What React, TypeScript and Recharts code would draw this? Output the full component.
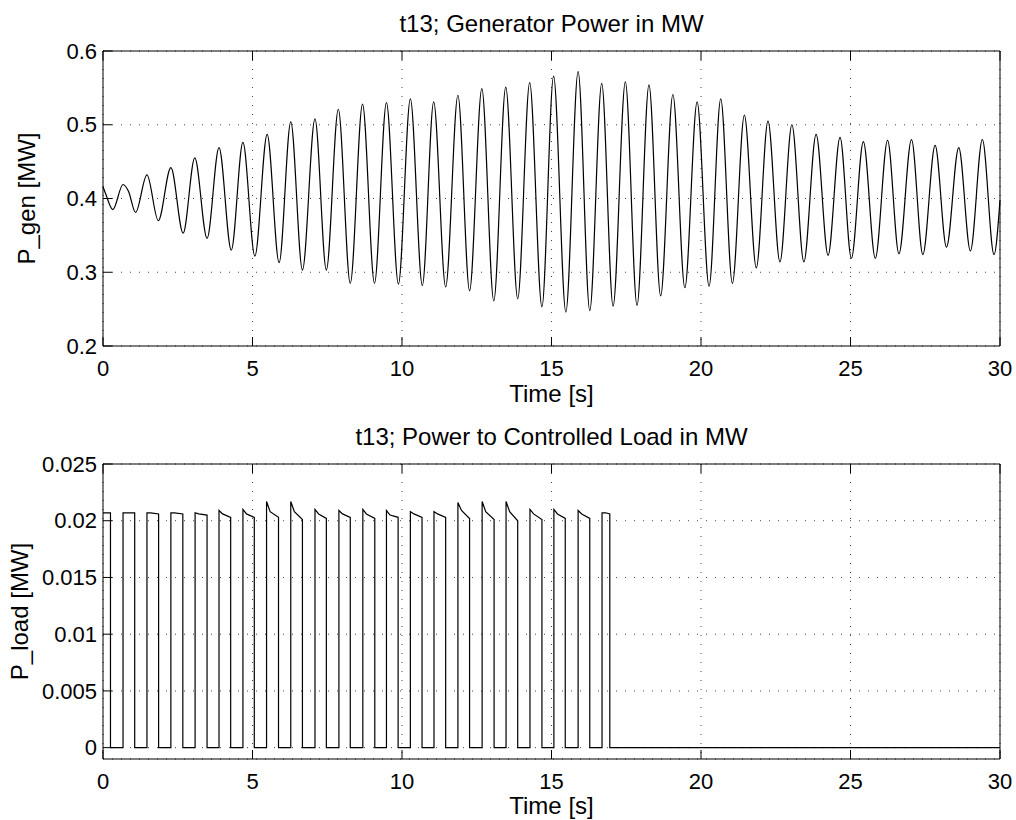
import React from 'react';
import { LineChart, Line, XAxis, YAxis, CartesianGrid } from 'recharts';

const FONT = '"Liberation Sans", Arial, Helvetica, sans-serif';

const timeTicks = [0, 5, 10, 15, 20, 25, 30];
const genTicks = [0.2, 0.3, 0.4, 0.5, 0.6];
const loadTicks = [0, 0.005, 0.01, 0.015, 0.02, 0.025];

// generator power: extrema (s, MW)
const genTime = [
  0, 0.1, 0.33, 0.67, 0.85, 1.09, 1.47, 1.85, 2.27, 2.68, 3.07, 3.48, 3.88, 4.29, 4.68,
  5.08, 5.49, 5.89, 6.28, 6.67, 7.09, 7.47, 7.87, 8.27, 8.68, 9.08, 9.48, 9.88,
  10.28, 10.68, 11.06, 11.46, 11.87, 12.26, 12.67, 13.07, 13.47, 13.87, 14.27, 14.68,
  15.07, 15.48, 15.89, 16.28, 16.68, 17.06, 17.47, 17.86, 18.26, 18.65, 19.06, 19.46, 19.87,
  20.27, 20.66, 21.05, 21.45, 21.85, 22.24, 22.64, 23.04, 23.44, 23.85, 24.25, 24.65,
  25.03, 25.43, 25.83, 26.24, 26.62, 27.04, 27.42, 27.83, 28.21, 28.62, 29.01, 29.41, 29.8, 30,
];
const genPower = [
  0.416, 0.405, 0.385, 0.419, 0.41, 0.381, 0.432, 0.37, 0.442, 0.353, 0.455, 0.346, 0.469, 0.33, 0.476,
  0.322, 0.487, 0.313, 0.504, 0.303, 0.508, 0.303, 0.521, 0.285, 0.528, 0.285, 0.53, 0.284,
  0.535, 0.282, 0.531, 0.28, 0.54, 0.275, 0.549, 0.261, 0.551, 0.264, 0.557, 0.253,
  0.566, 0.246, 0.572, 0.248, 0.556, 0.254, 0.558, 0.255, 0.554, 0.268, 0.541, 0.279, 0.531,
  0.281, 0.535, 0.285, 0.513, 0.306, 0.505, 0.314, 0.5, 0.314, 0.487, 0.323, 0.483,
  0.319, 0.477, 0.319, 0.479, 0.325, 0.48, 0.324, 0.472, 0.334, 0.469, 0.329, 0.48, 0.324, 0.398,
];

// controlled load pulses: switch-on / switch-off times and levels along each pulse
const loadRise = [0, 0.67, 1.47, 2.27, 3.08, 3.88, 4.68, 5.47, 6.28, 7.09, 7.89, 8.69, 9.48, 10.28, 11.07, 11.87, 12.68, 13.48, 14.28, 15.08, 15.89, 16.69];
const loadFall = [0.25, 1.06, 1.86, 2.67, 3.48, 4.27, 5.06, 5.87, 6.67, 7.47, 8.27, 9.09, 9.87, 10.67, 11.46, 12.26, 13.08, 13.87, 14.68, 15.46, 16.28, 16.95];
const loadStart = [0.0207, 0.0207, 0.0207, 0.0207, 0.0207, 0.0209, 0.021, 0.0217, 0.0217, 0.021, 0.0209, 0.021, 0.0209, 0.0208, 0.0208, 0.0216, 0.0217, 0.0217, 0.021, 0.021, 0.0209, 0.0207];
const loadKnee = [0.0207, 0.0207, 0.0207, 0.0207, 0.0206, 0.0206, 0.0206, 0.0208, 0.0208, 0.0206, 0.0206, 0.0206, 0.0205, 0.0206, 0.0206, 0.0209, 0.0208, 0.0208, 0.0206, 0.0206, 0.0206, 0.0207];
const loadEnd = [0.0207, 0.0207, 0.0206, 0.0206, 0.0205, 0.0203, 0.0203, 0.0203, 0.0201, 0.0202, 0.0203, 0.0202, 0.0203, 0.0203, 0.0203, 0.0202, 0.0201, 0.02, 0.0201, 0.0202, 0.0202, 0.0206];
const kneeDelay = 0.12;

const genData = genTime.map((t, i) => ({ t, p: genPower[i] }));

const loadData: { t: number; p: number }[] = [];
loadRise.forEach((r, i) => {
  if (r > 0) loadData.push({ t: r, p: 0 });
  loadData.push({ t: r, p: loadStart[i] });
  loadData.push({ t: r + kneeDelay, p: loadKnee[i] });
  loadData.push({ t: loadFall[i], p: loadEnd[i] });
  loadData.push({ t: loadFall[i], p: 0 });
});
loadData.push({ t: 30, p: 0 });

const TICK = 9;

const BottomTick = (props: any) => {
  const { x, y, payload } = props;
  return (
    <g>
      <line x1={x} x2={x} y1={y} y2={y - TICK} stroke="#000" />
      <text x={x} y={y + 30} textAnchor="middle" fontSize={22} fontFamily={FONT} fill="#000">
        {String(payload.value)}
      </text>
    </g>
  );
};

const TopTick = (props: any) => {
  const { x, y } = props;
  return <line x1={x} x2={x} y1={y} y2={y + TICK} stroke="#000" />;
};

const LeftTick = (props: any) => {
  const { x, y, payload } = props;
  return (
    <g>
      <line x1={x} x2={x + TICK} y1={y} y2={y} stroke="#000" />
      <text x={x - 6} y={y} dy="0.35em" textAnchor="end" fontSize={22} fontFamily={FONT} fill="#000">
        {String(payload.value)}
      </text>
    </g>
  );
};

const RightTick = (props: any) => {
  const { x, y } = props;
  return <line x1={x} x2={x - TICK} y1={y} y2={y} stroke="#000" />;
};

function Panel({ data, domain, ticks, top, curve }: any) {
  return (
    <div style={{ position: 'absolute', left: 0, top: top.offset }}>
      <LineChart width={1016} height={410} data={data} margin={{ top: top.margin, right: 0, bottom: 0, left: 0 }}>
        <CartesianGrid stroke="#444" strokeDasharray="1 8" />
        <XAxis
          dataKey="t"
          type="number"
          domain={[0, 30]}
          ticks={timeTicks}
          interval={0}
          height={top.xh}
          tickSize={0}
          tickMargin={0}
          tickLine={false}
          axisLine={{ stroke: '#000' }}
          tick={<BottomTick />}
        />
        <XAxis
          xAxisId="top"
          orientation="top"
          dataKey="t"
          type="number"
          domain={[0, 30]}
          ticks={timeTicks}
          interval={0}
          height={1}
          tickSize={0}
          tickMargin={0}
          tickLine={false}
          axisLine={{ stroke: '#000' }}
          tick={<TopTick />}
        />
        <YAxis
          type="number"
          domain={domain}
          ticks={ticks}
          interval={0}
          width={103}
          tickSize={0}
          tickMargin={0}
          tickLine={false}
          axisLine={{ stroke: '#000' }}
          tick={<LeftTick />}
        />
        <YAxis
          yAxisId="right"
          orientation="right"
          type="number"
          domain={domain}
          ticks={ticks}
          interval={0}
          width={16}
          tickSize={0}
          tickMargin={0}
          tickLine={false}
          axisLine={{ stroke: '#000' }}
          tick={<RightTick />}
        />
        <Line
          dataKey="p"
          type={curve}
          stroke="#000"
          strokeWidth={1.2}
          dot={false}
          isAnimationActive={false}
        />
      </LineChart>
    </div>
  );
}

export default function App() {
  const txt = { fontFamily: FONT, fontSize: 24, fill: '#000' } as any;
  return (
    <div style={{ position: 'absolute', left: 0, top: 0, width: 1016, height: 820, background: '#fff' }}>
      <Panel data={genData} domain={[0.2, 0.6]} ticks={genTicks} curve="monotone" top={{ offset: 0, margin: 50, xh: 64 }} />
      <Panel data={loadData} domain={[-0.001, 0.025]} ticks={loadTicks} curve="linear" top={{ offset: 410, margin: 53, xh: 61 }} />
      <svg width={1016} height={820} style={{ position: 'absolute', left: 0, top: 0, pointerEvents: 'none' }}>
        <text x={551.5} y={31.5} textAnchor="middle" {...txt}>t13; Generator Power in MW</text>
        <text x={551.5} y={402} textAnchor="middle" {...txt}>Time [s]</text>
        <text transform="translate(35,198.5) rotate(-90)" textAnchor="middle" {...txt}>P_gen [MW]</text>
        <text x={551.5} y={445} textAnchor="middle" {...txt}>t13; Power to Controlled Load in MW</text>
        <text x={551.5} y={814} textAnchor="middle" {...txt}>Time [s]</text>
        <text transform="translate(28,611.5) rotate(-90)" textAnchor="middle" {...txt}>P_load [MW]</text>
      </svg>
    </div>
  );
}
